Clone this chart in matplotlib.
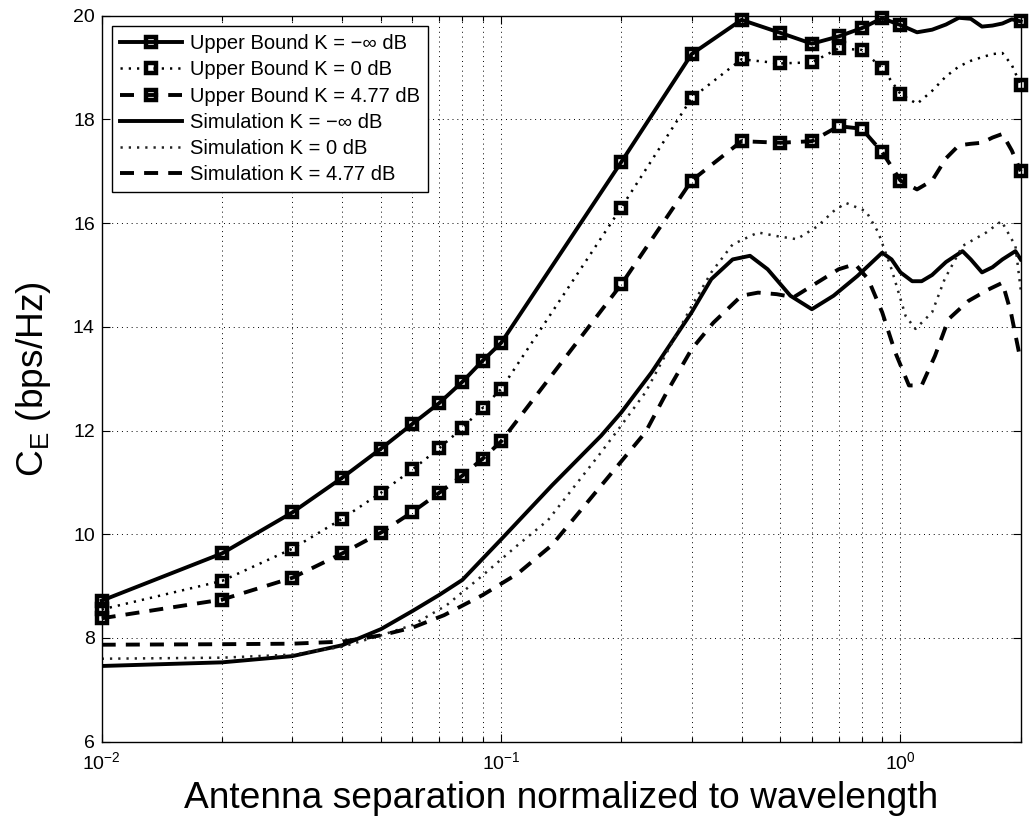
import matplotlib
matplotlib.use("Agg")
import matplotlib.pyplot as plt
from matplotlib.ticker import LogLocator, FixedLocator

plt.rcParams["font.family"] = ["Liberation Sans", "DejaVu Sans"]
plt.rcParams["mathtext.fontset"] = "custom"
plt.rcParams["mathtext.rm"] = "Liberation Sans"
plt.rcParams["mathtext.it"] = "Liberation Sans:italic"
plt.rcParams["mathtext.bf"] = "Liberation Sans:bold"
plt.rcParams["mathtext.default"] = "regular"

# Upper bounds: evaluated on a coarse separation grid
ub_x = [0.01, 0.02, 0.03, 0.04, 0.05, 0.06, 0.07, 0.08, 0.09, 0.1,
        0.2, 0.3, 0.4, 0.5, 0.6, 0.7, 0.8, 0.9, 1.0,
        1.1, 1.2, 1.3, 1.4, 1.5, 1.6, 1.7, 1.8, 1.9, 2.0]
ub_k_ninf = [8.72, 9.63, 10.42, 11.09, 11.65, 12.13, 12.53, 12.94, 13.35, 13.69,
             17.18, 19.26, 19.92, 19.67, 19.46, 19.60, 19.76, 19.95, 19.82,
             19.68, 19.73, 19.83, 19.96, 19.94, 19.79, 19.81, 19.85, 19.93, 19.89]
ub_k_0 = [8.55, 9.10, 9.72, 10.30, 10.80, 11.25, 11.66, 12.05, 12.44, 12.80,
          16.30, 18.41, 19.16, 19.08, 19.10, 19.37, 19.34, 18.99, 18.49,
          18.30, 18.55, 18.83, 19.02, 19.13, 19.20, 19.26, 19.28, 19.05, 18.66]
ub_k_477 = [8.38, 8.74, 9.16, 9.63, 10.03, 10.43, 10.80, 11.13, 11.46, 11.79,
            14.82, 16.82, 17.58, 17.55, 17.58, 17.87, 17.82, 17.37, 16.82,
            16.65, 16.82, 17.25, 17.50, 17.53, 17.55, 17.65, 17.72, 17.40, 17.00]
# grid points that carry a marker
ub_marked = list(range(19)) + [28]

# Monte-Carlo simulation results
sim_ninf_x = [0.01, 0.02, 0.03, 0.04, 0.05, 0.06, 0.07, 0.08, 0.1, 0.134, 0.178,
              0.2, 0.238, 0.3, 0.336, 0.38, 0.42, 0.465, 0.53, 0.6, 0.68, 0.78,
              0.9, 0.95, 1.0, 1.07, 1.13, 1.2, 1.3, 1.43, 1.5, 1.6, 1.7, 1.8,
              1.94, 2.0]
sim_ninf_y = [7.46, 7.53, 7.65, 7.86, 8.17, 8.52, 8.83, 9.12, 9.90, 10.94, 11.90,
              12.35, 13.12, 14.28, 14.92, 15.30, 15.37, 15.11, 14.60, 14.34, 14.60,
              14.98, 15.43, 15.30, 15.05, 14.88, 14.88, 15.00, 15.25, 15.46, 15.30,
              15.05, 15.15, 15.30, 15.46, 15.30]

sim_0_x = [0.01, 0.02, 0.03, 0.04, 0.05, 0.06, 0.073, 0.09, 0.11, 0.131, 0.178,
           0.2, 0.23, 0.3, 0.336, 0.38, 0.44, 0.49, 0.55, 0.62, 0.68, 0.73,
           0.82, 0.88, 0.95, 1.03, 1.09, 1.2, 1.29, 1.43, 1.64, 1.79, 1.94, 2.0]
sim_0_y = [7.60, 7.62, 7.68, 7.83, 8.05, 8.25, 8.63, 9.21, 9.79, 10.27, 11.58,
           12.10, 12.74, 14.40, 15.05, 15.59, 15.82, 15.75, 15.69, 15.94, 16.23,
           16.39, 16.23, 15.82, 15.11, 14.21, 13.96, 14.28, 14.92, 15.56, 15.82,
           16.04, 15.56, 14.72]

sim_477_x = [0.01, 0.02, 0.03, 0.04, 0.05, 0.06, 0.072, 0.09, 0.11, 0.134, 0.19,
             0.23, 0.26, 0.3, 0.34, 0.4, 0.44, 0.49, 0.54, 0.6, 0.7, 0.77, 0.83,
             0.9, 0.97, 1.05, 1.13, 1.22, 1.32, 1.48, 1.66, 1.8, 1.89, 1.98, 2.0]
sim_477_y = [7.87, 7.88, 7.89, 7.93, 8.05, 8.20, 8.44, 8.83, 9.24, 9.79, 11.20,
             11.97, 12.74, 13.57, 14.08, 14.60, 14.66, 14.63, 14.57, 14.79, 15.11,
             15.21, 14.92, 14.28, 13.51, 12.87, 12.87, 13.44, 14.15, 14.50, 14.72,
             14.85, 14.28, 13.51, 13.40]

labels = ["Upper Bound K = \u2212\u221e dB",
          "Upper Bound K = 0 dB",
          "Upper Bound K = 4.77 dB",
          "Simulation K = \u2212\u221e dB",
          "Simulation K = 0 dB",
          "Simulation K = 4.77 dB"]

fig = plt.figure(figsize=(10.29, 8.21), dpi=100)
ax = fig.add_axes([101.7 / 1029, 1 - 741.7 / 821, 919 / 1029, 726 / 821])

LW = 2.8
solid = "-"
dotted = (0, (0.9, 2.4))
dashed = (0, (3.6, 2.6))
mk = dict(marker="s", markersize=7, markeredgewidth=3.2,
          markerfacecolor="none", markeredgecolor="k", markevery=ub_marked)

ax.plot(ub_x, ub_k_ninf, color="k", lw=LW, ls=solid, clip_on=False,
        label=labels[0], **mk)
ax.plot(ub_x, ub_k_0, color="k", lw=1.8, ls=dotted, clip_on=False,
        label=labels[1], **mk)
ax.plot(ub_x, ub_k_477, color="k", lw=LW, ls=dashed, clip_on=False,
        label=labels[2], **mk)
ax.plot(sim_ninf_x, sim_ninf_y, color="k", lw=LW, ls=solid, label=labels[3])
ax.plot(sim_0_x, sim_0_y, color="#222222", lw=1.8, ls=dotted, label=labels[4])
ax.plot(sim_477_x, sim_477_y, color="k", lw=LW, ls=dashed, label=labels[5])

ax.set_xscale("log")
ax.set_xlim(0.01, 2.0)
ax.set_ylim(6, 20)
ax.yaxis.set_major_locator(FixedLocator([6, 8, 10, 12, 14, 16, 18, 20]))
ax.xaxis.set_major_locator(LogLocator(base=10, numticks=10))
ax.xaxis.set_minor_locator(LogLocator(base=10, subs=range(2, 10), numticks=20))

grid_style = dict(color="k", lw=0.7, ls=(0, (1, 4)))
ax.grid(True, which="major", axis="both", **grid_style)
ax.grid(True, which="minor", axis="x", **grid_style)

ax.tick_params(which="both", direction="in", top=True, right=True,
               labelsize=14, width=0.8)
ax.tick_params(which="major", length=6, pad=5)
ax.tick_params(which="minor", length=3.5)
ax.tick_params(axis="x", which="major", pad=7)
for s in ax.spines.values():
    s.set_linewidth(1.0)

ax.set_xlabel("Antenna separation normalized to wavelength", fontsize=26.7,
              labelpad=5.5)
ax.set_ylabel("C$_{E}$ (bps/Hz)", fontsize=26.7, labelpad=14)

leg = ax.legend(loc="upper left", bbox_to_anchor=(10.3 / 919, 1 - 10.3 / 726),
                borderaxespad=0, fontsize=14.5, numpoints=1, handlelength=3.1,
                handletextpad=0.35, labelspacing=0.36, borderpad=0.4,
                fancybox=False, framealpha=1, edgecolor="k")
leg.get_frame().set_linewidth(1.0)

fig.savefig("out.png", dpi=100, facecolor="white")
